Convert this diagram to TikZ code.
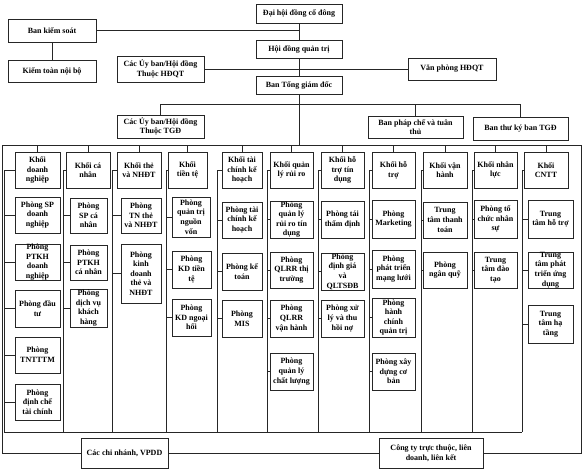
\documentclass[tikz,border=0pt]{standalone}
\usepackage{fontspec}
\setmainfont{Liberation Serif}
\tikzset{
  bx/.style={draw=black!85, line width=0.6pt, inner sep=0pt, outer sep=0pt, fill=white},
  tx/.style={inner sep=0pt, align=center, font=\fontsize{8}{9.6}\selectfont\bfseries},
  ln/.style={draw=black!85, line width=0.6pt}
}
\newcommand\obox[6]{%
  \pgfmathsetmacro\bxw{#4-#2}\pgfmathsetmacro\bxh{#5-#3}%
  \pgfmathsetmacro\bxcx{(#2+#4)/2}\pgfmathsetmacro\bxcy{(#3+#5)/2}%
  \node[bx,minimum width=\bxw pt,minimum height=\bxh pt] (#1) at (\bxcx,\bxcy) {};%
  \node[tx] (#1t) at (#1.center) {#6};}
\begin{document}
\begin{tikzpicture}[x=1pt,y=-1pt]
\useasboundingbox (0,0) rectangle (584,469);
% top
\obox{dhcd}{256}{4}{342}{23}{Đại hội đồng cổ đông}
\obox{bks}{8}{19}{96}{42}{Ban kiểm soát}
\obox{ktnb}{8}{60}{96}{82}{Kiểm toàn nội bộ}
\obox{hdqt}{256}{40}{342}{58}{Hội đồng quản trị}
\obox{ubhdqt}{117}{56}{204}{82}{Các Ủy ban/Hội đồng\\Thuộc HĐQT}
\obox{vphdqt}{408}{58}{496}{80}{Văn phòng HĐQT}
\obox{btgd}{256}{76}{342}{94}{Ban Tổng giám đốc}
\obox{ubtgd}{117}{115}{204}{138}{Các Ủy ban/Hội đồng\\Thuộc TGĐ}
\obox{bpc}{368}{116}{463}{138}{Ban pháp chế và tuân\\thủ}
\obox{btk}{473}{117}{568}{140}{Ban thư ký ban TGĐ}
% columns
\obox{k1}{15}{152}{60}{188}{Khối\\doanh\\nghiệp}
\obox{k1a}{15}{197}{60}{233}{Phòng SP\\doanh\\nghiệp}
\obox{k1b}{15}{244}{60}{280}{Phòng\\PTKH\\doanh\\nghiệp}
\obox{k1c}{15}{290}{60}{327}{Phòng đầu\\tư}
\obox{k1d}{15}{337}{60}{373}{Phòng\\TNTTTM}
\obox{k1e}{15}{384}{60}{420}{Phòng\\định chế\\tài chính}
\obox{k2}{66}{152}{110}{188}{Khối cá\\nhân}
\obox{k2a}{70}{198}{107}{233}{Phòng\\SP cá\\nhân}
\obox{k2b}{70}{245}{107}{280}{Phòng\\PTKH\\cá nhân}
\obox{k2c}{70}{289}{107}{327}{Phòng\\dịch vụ\\khách\\hàng}
\obox{k3}{117}{152}{161}{188}{Khối thẻ\\và NHĐT}
\obox{k3a}{121}{198}{161}{233}{Phòng\\TN thẻ\\và NHĐT}
\obox{k3b}{121}{244}{161}{303}{Phòng\\kinh\\doanh\\thẻ và\\NHĐT}
\obox{k4}{168}{152}{207}{188}{Khối\\tiền tệ}
\obox{k4a}{172}{197}{210}{237}{Phòng\\quản trị\\nguồn\\vốn}
\obox{k4b}{172}{251}{211}{288}{Phòng\\KD tiền\\tệ}
\obox{k4c}{172}{299}{211}{336}{Phòng\\KD ngoại\\hối}
\obox{k5}{222}{152}{262}{188}{Khối tài\\chính kế\\hoạch}
\obox{k5a}{222}{202}{262}{238}{Phòng tài\\chính kế\\hoạch}
\obox{k5b}{222}{253}{262}{290}{Phòng kế\\toán}
\obox{k5c}{222}{300}{262}{337}{Phòng\\MIS}
\obox{k6}{270}{152}{313}{188}{Khối quản\\lý rủi ro}
\obox{k6a}{270}{201}{313}{238}{Phòng\\quản lý\\rủi ro tín\\dụng}
\obox{k6b}{270}{252}{313}{288}{Phòng\\QLRR thị\\trường}
\obox{k6c}{270}{300}{313}{337}{Phòng\\QLRR\\vận hành}
\obox{k6d}{270}{353}{313}{390}{Phòng\\quản lý\\chất lượng}
\obox{k7}{321}{152}{364}{188}{Khối hỗ\\trợ tín\\dụng}
\obox{k7a}{321}{201}{364}{238}{Phòng tái\\thẩm định}
\obox{k7b}{321}{253}{364}{290}{Phòng\\định giá\\và\\QLTSĐB}
\obox{k7c}{321}{300}{364}{337}{Phòng xử\\lý và thu\\hồi nợ}
\obox{k8}{372}{152}{415}{188}{Khối hỗ\\trợ}
\obox{k8a}{372}{200}{415}{238}{Phòng\\Marketing}
\obox{k8b}{372}{250}{415}{288}{Phòng\\phát triển\\mạng lưới}
\obox{k8c}{372}{298}{415}{337}{Phòng\\hành\\chính\\quản trị}
\obox{k8d}{372}{353}{415}{390}{Phòng xây\\dựng cơ\\bản}
\obox{k9}{423}{152}{467}{188}{Khối vận\\hành}
\obox{k9a}{423}{202}{467}{238}{Trung\\tâm thanh\\toán}
\obox{k9b}{423}{252}{467}{288}{Phòng\\ngân quỹ}
\obox{k10}{474}{152}{517}{188}{Khối nhân\\lực}
\obox{k10a}{474}{200}{517}{238}{Phòng tổ\\chức nhân\\sự}
\obox{k10b}{474}{252}{517}{288}{Trung\\tâm đào\\tạo}
\obox{k11}{524}{152}{568}{188}{Khối\\CNTT}
\obox{k11a}{528}{200}{573}{238}{Trung\\tâm hỗ trợ}
\obox{k11b}{528}{252}{573}{288}{Trung\\tâm phát\\triển ứng\\dụng}
\obox{k11c}{528}{305}{573}{343}{Trung\\tâm hạ\\tầng}
% bottom
\obox{cn}{81}{438}{168}{468}{Các chi nhánh, VPDD}
\obox{ct}{379}{438}{483}{468}{Công ty trực thuộc, liên\\doanh, liên kết}
% connectors
\coordinate (busL) at (2,145);
\coordinate (busR) at (581,145);
\coordinate (tg) at (299,104);
\coordinate (botL) at (4,432);
\coordinate (botR) at (522,432);
\draw[ln] (dhcd.south) -- (hdqt.north);
\draw[ln] (hdqt.south) -- (btgd.north);
\draw[ln] (btgd.south) -- (btgd.south |- busL);
\draw[ln] (bks.east) -- (bks.east -| dhcd.south);
\draw[ln] (bks.south) -- (ktnb.north);
\draw[ln] (ubhdqt.east) -- (vphdqt.west);
\draw[ln] (ubtgd.north) |- (btk.north |- tg) -- (btk.north);
\draw[ln] (bpc.north) -- (bpc.north |- tg);
\draw[ln] (busL) -- (busR);
\draw[ln] (busL) |- (cn.west);
\draw[ln] (cn.east) -- (ct.west);
\draw[ln] (ct.east) -| (busR);
\draw[ln] (botL) -- (botR);
\foreach \k/\v in {1/4,2/63,3/112,4/166,5/217,6/267,7/318,8/369,9/421,10/472,11/522}{
  \coordinate (v\k) at (\v,170);
  \draw[ln] (k\k.north) -- (k\k.north |- busL);
  \draw[ln] (k\k.west) -- (v\k) -- (v\k |- botL);
}
\foreach \k/\s in {1/a,1/b,1/c,1/d,1/e,2/a,2/b,2/c,3/a,3/b,4/a,4/b,4/c,5/a,5/b,5/c,6/a,6/b,6/c,6/d,7/a,7/b,7/c,8/a,8/b,8/c,8/d,9/a,9/b,10/a,10/b,11/a,11/b,11/c}{
  \draw[ln] (k\k\s.west) -- (k\k\s.west -| v\k);
}
\end{tikzpicture}
\end{document}
